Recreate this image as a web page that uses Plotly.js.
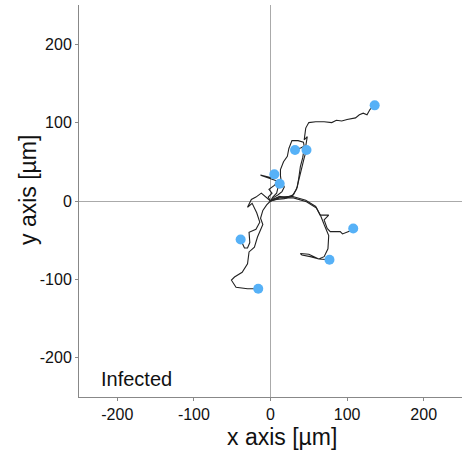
<!DOCTYPE html>
<html><head><meta charset="utf-8">
<script src="https://cdn.plot.ly/plotly-3.0.1.min.js"></script>
<style>html,body{margin:0;padding:0;background:#fff}</style>
</head><body><div id="plot" style="width:463px;height:455px"></div>
<script>
// Track coordinates (µm), each starting at the origin
const track1X = [0, 5, 12, 20, 30, 35, 37, 39, 42, 43, 46, 48, 44, 45, 46, 50, 59, 70, 80, 86, 93, 100, 111, 116, 121, 126, 130, 136];
const track1Y = [0, 3, 6, 4, 8, 18, 30, 44, 55, 61, 70, 82, 78, 86, 93, 100, 101, 101, 100, 103, 102, 104, 106, 110, 112, 110, 117, 122];
const track2X = [0, 3, 8, 10, 14, 13, 13, 17, 22, 24, 28, 36, 43, 44, 40, 32];
const track2Y = [0, 5, 10, 18, 25, 32, 40, 50, 57, 67, 77, 77, 75, 70, 68, 65];
const track3X = [0, 8, 18, 28, 34, 37, 40, 44, 46, 47];
const track3Y = [0, 2, 3, 6, 15, 28, 42, 55, 62, 65];
const track4X = [0, -3, 2, -2, 5, 10, 4, -13, 0, 5];
const track4Y = [0, 5, 10, 15, 20, 25, 27, 33, 30, 34];
const track5X = [0, 5, 10, 15, 18, 15, 12];
const track5Y = [0, 5, 8, 12, 18, 24, 22];
const track6X = [0, -5, -12, -19, -25, -30, -24, -18, -14, -19, -28, -27, -30, -34, -39];
const track6Y = [0, 4, 10, 5, 2, -8, -3, -15, -27, -36, -40, -53, -60, -60, -49];
const track7X = [0, -5, -10, -13, -10, -14, -17, -21, -28, -30, -37, -47, -51, -45, -30, -16];
const track7Y = [0, -5, -12, -22, -30, -40, -46, -59, -65, -80, -91, -97, -101, -110, -112, -112];
const track8X = [0, 11, 28, 46, 59, 65, 76, 70, 74, 78, 91, 94, 102, 108];
const track8Y = [0, 5, 6, 1, -7, -18, -18, -24, -35, -39, -39, -42, -39, -35];
const track9X = [0, 12, 30, 47, 60, 66, 70, 76, 75, 70, 63, 52, 41, 39, 50, 63, 77];
const track9Y = [0, 4, 4, -1, -9, -20, -30, -44, -61, -71, -74, -71, -69, -67, -68, -74, -75];
const endX = [136, 32, 47, 5, 12, -39, -16, 108, 77];
const endY = [122, 65, 65, 34, 22, -49, -112, -35, -75];
const xTicks = [-200, -100, 0, 100, 200];
const yTicks = [-200, -100, 0, 100, 200];

const tracks = [[track1X, track1Y], [track2X, track2Y], [track3X, track3Y], [track4X, track4Y],
  [track5X, track5Y], [track6X, track6Y], [track7X, track7Y], [track8X, track8Y], [track9X, track9Y]];
const data = tracks.map(t => ({x: t[0], y: t[1], type: 'scatter', mode: 'lines',
  line: {color: '#222', width: 1.1}, hoverinfo: 'skip', showlegend: false}));
data.push({x: endX, y: endY, type: 'scatter', mode: 'markers',
  marker: {color: '#56B1F7', size: 10}, showlegend: false});

const F = 'Liberation Sans, Arial';
const axisBase = {range: [-250, 250], showgrid: false, zeroline: true, zerolinecolor: '#aaa', zerolinewidth: 1,
  showline: true, linecolor: '#888', linewidth: 1, ticks: 'outside', ticklen: 3, tickcolor: '#888',
  tickfont: {family: F, size: 16, color: '#111'}, tickmode: 'array'};
const layout = {
  width: 463, height: 455, margin: {l: 79, r: 1, t: 5, b: 58},
  paper_bgcolor: '#fff', plot_bgcolor: '#fff',
  xaxis: Object.assign({}, axisBase, {tickvals: xTicks, ticktext: xTicks.map(String)}),
  yaxis: Object.assign({}, axisBase, {tickvals: yTicks, ticktext: yTicks.map(String)}),
  annotations: [
    {x: -224, y: -227, xref: 'x', yref: 'y', text: 'Infected', showarrow: false,
      xanchor: 'left', yanchor: 'middle', font: {family: F, size: 20, color: '#111'}},
    {x: 282, y: 437, xref: 'paper', yref: 'paper', text: 'x axis [µm]', showarrow: false,
      xanchor: 'center', yanchor: 'middle', font: {family: F, size: 23, color: '#111'}},
    {x: 28, y: 190, text: 'y axis [µm]', showarrow: false, textangle: -90,
      xanchor: 'center', yanchor: 'middle', font: {family: F, size: 23, color: '#111'}}
  ]
};
// convert pixel positions for the axis-title annotations into paper coordinates
const pw = 463 - 79 - 1, ph = 455 - 5 - 58;
layout.annotations[1].x = (282 - 79) / pw; layout.annotations[1].y = (455 - 58 - 437) / ph;
layout.annotations[2].xref = 'paper'; layout.annotations[2].yref = 'paper';
layout.annotations[2].x = (28 - 79) / pw; layout.annotations[2].y = (455 - 58 - 190) / ph;
Plotly.newPlot('plot', data, layout, {displayModeBar: false, staticPlot: true});
</script></body></html>
